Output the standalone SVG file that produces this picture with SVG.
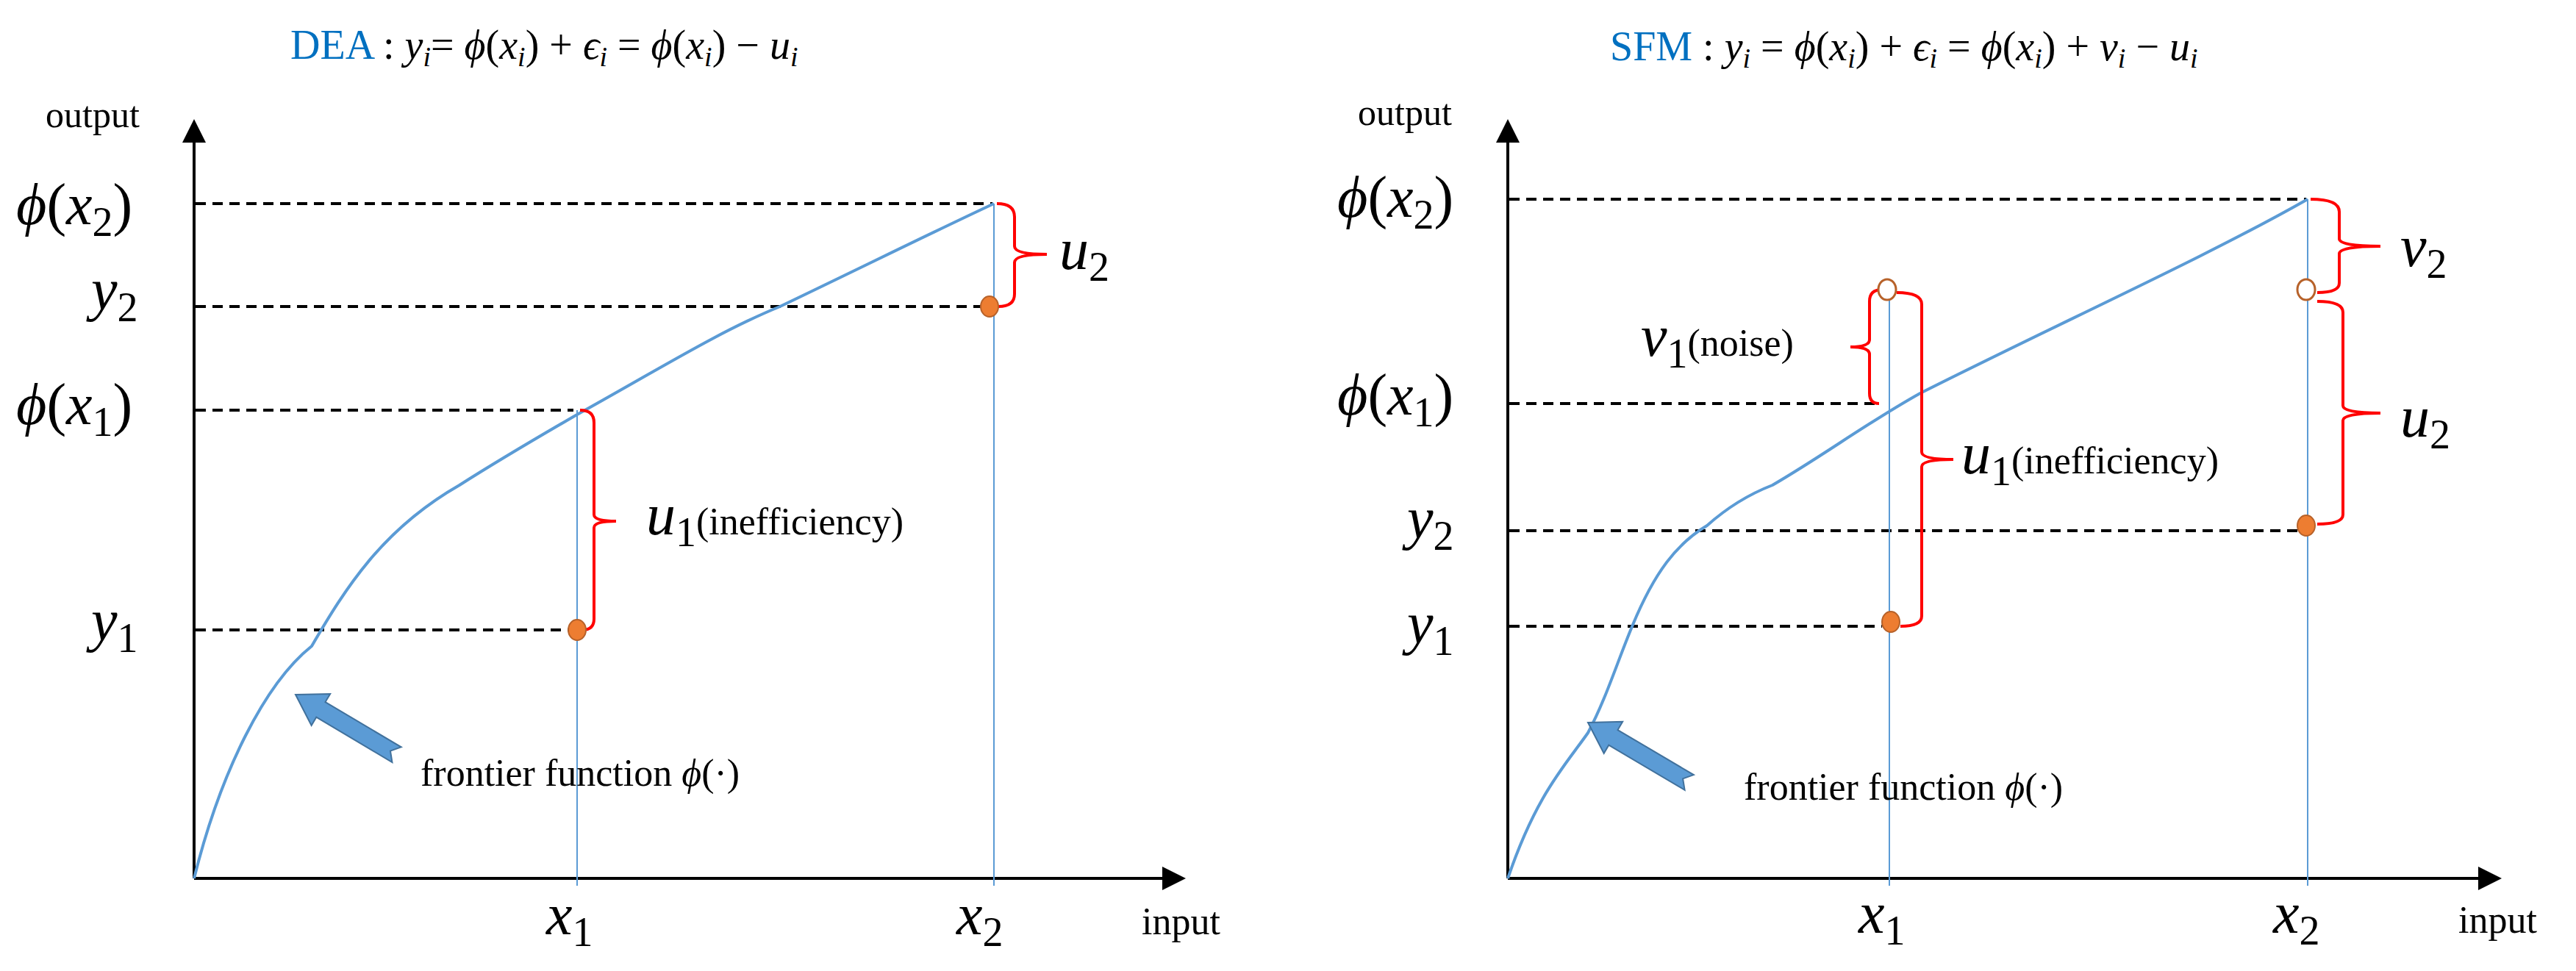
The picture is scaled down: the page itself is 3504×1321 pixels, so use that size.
<svg xmlns="http://www.w3.org/2000/svg" width="3504" height="1321" viewBox="0 0 3504 1321">
<style>
.m{font-family:"Liberation Serif","DejaVu Serif",serif;font-style:italic;fill:#000}
.t{font-family:"Liberation Serif","DejaVu Serif",serif;fill:#000}
.big{font-size:80px}
.dash{stroke:#000;stroke-width:4;stroke-dasharray:14 9;fill:none}
.vl{stroke:#5B9BD5;stroke-width:2;fill:none}
.ax{stroke:#000;stroke-width:4;fill:none}
.cv{stroke:#5B9BD5;stroke-width:4;fill:none}
.br{stroke:#FF0000;stroke-width:4;fill:none}
.dot{fill:#ED7D31;stroke:#B7622A;stroke-width:2}
.hol{fill:#fff;stroke:#B7622A;stroke-width:3}
.blk{fill:#5B9BD5;stroke:#41719C;stroke-width:2}
</style>
<defs>
<marker id="ah" markerWidth="8" markerHeight="8" refX="6" refY="4" orient="auto" markerUnits="strokeWidth"><path d="M0,0 L8,4 L0,8 z" fill="#000"/></marker>
</defs>
<rect width="3504" height="1321" fill="#fff"/>

<!-- LEFT PANEL -->
<g id="titleL"><text x="395" y="80" class="m" font-size="56"><tspan class="t" fill="#0070C0" style="fill:#0070C0;font-style:normal">DEA</tspan><tspan font-style="normal"> : </tspan>y<tspan dy="10" font-size="38">i</tspan><tspan dy="-10" font-style="normal">= </tspan>ϕ<tspan font-style="normal">(</tspan>x<tspan dy="10" font-size="38">i</tspan><tspan dy="-10" font-style="normal">) + </tspan>ϵ<tspan dy="10" font-size="38">i</tspan><tspan dy="-10" font-style="normal"> = </tspan>ϕ<tspan font-style="normal">(</tspan>x<tspan dy="10" font-size="38">i</tspan><tspan dy="-10" font-style="normal">) − </tspan>u<tspan dy="10" font-size="38">i</tspan></text></g>
<g id="connectorsL">
<line x1="264" y1="1195" x2="264" y2="170" class="ax" marker-end="url(#ah)"/>
<line x1="264" y1="1195" x2="1605" y2="1195" class="ax" stroke-width="6" marker-end="url(#ah)"/>
<line x1="266" y1="277" x2="1350" y2="277" class="dash"/>
<line x1="266" y1="417" x2="1340" y2="417" class="dash"/>
<line x1="266" y1="558" x2="780" y2="558" class="dash"/>
<line x1="266" y1="857" x2="775" y2="857" class="dash"/>
<line x1="785" y1="558" x2="785" y2="1205" class="vl"/>
<line x1="1352" y1="277" x2="1352" y2="1205" class="vl"/>
<path class="cv" d="M264,1195 C300,1050 360,930 424,879 C470,800 520,720 625,660 C680,625 740,590 785,564 C900,500 980,450 1061,417 C1180,360 1260,320 1352,277"/>
<path class="br" d="M789,558 Q808,558 808,575 L808,700 Q808,709 838,709 Q808,709 808,718 L808,842 Q808,857 792,857"/>
<path class="br" d="M1356,277 Q1380,277 1380,295 L1380,335 Q1380,346 1424,346 Q1380,346 1380,357 L1380,400 Q1380,417 1358,417"/>
</g>
<g id="ptsL">
<ellipse cx="785" cy="857" rx="12" ry="14" class="dot"/>
<ellipse cx="1346" cy="417" rx="12" ry="14" class="dot"/>
</g>
<g id="arrowL"><polygon class="blk" transform="translate(402,945) rotate(30.7)" points="0,0 40,-25 40,-12 160,-12 150,0 160,12 40,12 40,25"/></g>
<g id="labelsL">
<text x="62" y="173" class="t" font-size="50">output</text>
<text x="22" y="305" class="m big">ϕ<tspan font-style="normal">(</tspan>x<tspan dy="16" font-size="56" font-style="normal">2</tspan><tspan dy="-16" font-style="normal">)</tspan></text>
<text x="124" y="421" class="m big">y<tspan dy="16" font-size="56" font-style="normal">2</tspan></text>
<text x="22" y="577" class="m big">ϕ<tspan font-style="normal">(</tspan>x<tspan dy="16" font-size="56" font-style="normal">1</tspan><tspan dy="-16" font-style="normal">)</tspan></text>
<text x="124" y="871" class="m big">y<tspan dy="16" font-size="56" font-style="normal">1</tspan></text>
<text x="1441" y="366" class="m big">u<tspan dy="16" font-size="56" font-style="normal">2</tspan></text>
<text x="879" y="727" class="m big">u<tspan dy="16" font-size="56" font-style="normal">1</tspan><tspan dy="-16" font-size="52" font-style="normal">(inefficiency)</tspan></text>
<text x="572" y="1069" class="t" font-size="52">frontier function <tspan font-style="italic">ϕ</tspan>(·)</text>
<text x="743" y="1271" class="m big">x<tspan dy="16" font-size="56" font-style="normal">1</tspan></text>
<text x="1301" y="1271" class="m big">x<tspan dy="16" font-size="56" font-style="normal">2</tspan></text>
<text x="1553" y="1271" class="t" font-size="52">input</text>
</g>

<!-- RIGHT PANEL -->
<g id="titleR"><text x="2190" y="82" class="m" font-size="56"><tspan style="fill:#0070C0;font-style:normal">SFM</tspan><tspan font-style="normal"> : </tspan>y<tspan dy="10" font-size="38">i</tspan><tspan dy="-10" font-style="normal"> = </tspan>ϕ<tspan font-style="normal">(</tspan>x<tspan dy="10" font-size="38">i</tspan><tspan dy="-10" font-style="normal">) + </tspan>ϵ<tspan dy="10" font-size="38">i</tspan><tspan dy="-10" font-style="normal"> = </tspan>ϕ<tspan font-style="normal">(</tspan>x<tspan dy="10" font-size="38">i</tspan><tspan dy="-10" font-style="normal">) + </tspan>v<tspan dy="10" font-size="38">i</tspan><tspan dy="-10" font-style="normal"> − </tspan>u<tspan dy="10" font-size="38">i</tspan></text></g>
<g id="connectorsR">
<line x1="2051" y1="1195" x2="2051" y2="170" class="ax" marker-end="url(#ah)"/>
<line x1="2051" y1="1195" x2="3395" y2="1195" class="ax" stroke-width="6" marker-end="url(#ah)"/>
<line x1="2053" y1="271" x2="3137" y2="271" class="dash"/>
<line x1="2053" y1="549" x2="2556" y2="549" class="dash"/>
<line x1="2053" y1="722" x2="3125" y2="722" class="dash"/>
<line x1="2053" y1="852" x2="2560" y2="852" class="dash"/>
<line x1="2570" y1="394" x2="2570" y2="1205" class="vl"/>
<line x1="3139" y1="271" x2="3139" y2="1205" class="vl"/>
<path class="cv" d="M2051,1195 C2090,1080 2130,1040 2160,997 C2185,950 2200,900 2221,850 C2250,780 2280,740 2322,715 C2350,690 2380,672 2411,660 C2480,620 2540,575 2612,535 C2800,440 3000,350 3139,271"/>
<!-- v1 brace (left facing) -->
<path class="br" d="M2560,394 Q2543,394 2543,410 L2543,462 Q2543,472 2517,472 Q2543,472 2543,482 L2543,535 Q2543,549 2556,549"/>
<!-- u1 brace -->
<path class="br" d="M2580,398 Q2614,398 2614,414 L2614,615 Q2614,625 2657,625 Q2614,625 2614,635 L2614,838 Q2614,852 2585,852"/>
<!-- v2 brace -->
<path class="br" d="M3143,271 Q3182,271 3182,288 L3182,325 Q3182,335 3238,335 Q3182,335 3182,345 L3182,385 Q3182,398 3152,398"/>
<!-- u2 brace -->
<path class="br" d="M3152,410 Q3187,410 3187,425 L3187,552 Q3187,562 3238,562 Q3187,562 3187,572 L3187,700 Q3187,713 3152,713"/>
</g>
<g id="ptsR">
<ellipse cx="2567" cy="394" rx="12" ry="14" class="hol"/>
<ellipse cx="3137" cy="394" rx="12" ry="14" class="hol"/>
<ellipse cx="2572" cy="846" rx="12" ry="14" class="dot"/>
<ellipse cx="3137" cy="715" rx="12" ry="14" class="dot"/>
</g>
<g id="arrowR"><polygon class="blk" transform="translate(2160,983) rotate(30.6)" points="0,0 40,-25 40,-12 160,-12 150,0 160,12 40,12 40,25"/></g>
<g id="labelsR">
<text x="1847" y="170" class="t" font-size="50">output</text>
<text x="1819" y="295" class="m big">ϕ<tspan font-style="normal">(</tspan>x<tspan dy="16" font-size="56" font-style="normal">2</tspan><tspan dy="-16" font-style="normal">)</tspan></text>
<text x="1819" y="564" class="m big">ϕ<tspan font-style="normal">(</tspan>x<tspan dy="16" font-size="56" font-style="normal">1</tspan><tspan dy="-16" font-style="normal">)</tspan></text>
<text x="1914" y="732" class="m big">y<tspan dy="16" font-size="56" font-style="normal">2</tspan></text>
<text x="1914" y="875" class="m big">y<tspan dy="16" font-size="56" font-style="normal">1</tspan></text>
<text x="3265" y="362" class="m big">v<tspan dy="16" font-size="56" font-style="normal">2</tspan></text>
<text x="3265" y="594" class="m big">u<tspan dy="16" font-size="56" font-style="normal">2</tspan></text>
<text x="2232" y="484" class="m big">v<tspan dy="16" font-size="56" font-style="normal">1</tspan><tspan dy="-16" font-size="52" font-style="normal">(noise)</tspan></text>
<text x="2668" y="644" class="m big">u<tspan dy="16" font-size="56" font-style="normal">1</tspan><tspan dy="-16" font-size="52" font-style="normal">(inefficiency)</tspan></text>
<text x="2372" y="1088" class="t" font-size="52">frontier function <tspan font-style="italic">ϕ</tspan>(·)</text>
<text x="2528" y="1269" class="m big">x<tspan dy="16" font-size="56" font-style="normal">1</tspan></text>
<text x="3092" y="1269" class="m big">x<tspan dy="16" font-size="56" font-style="normal">2</tspan></text>
<text x="3344" y="1269" class="t" font-size="52">input</text>
</g>
</svg>
